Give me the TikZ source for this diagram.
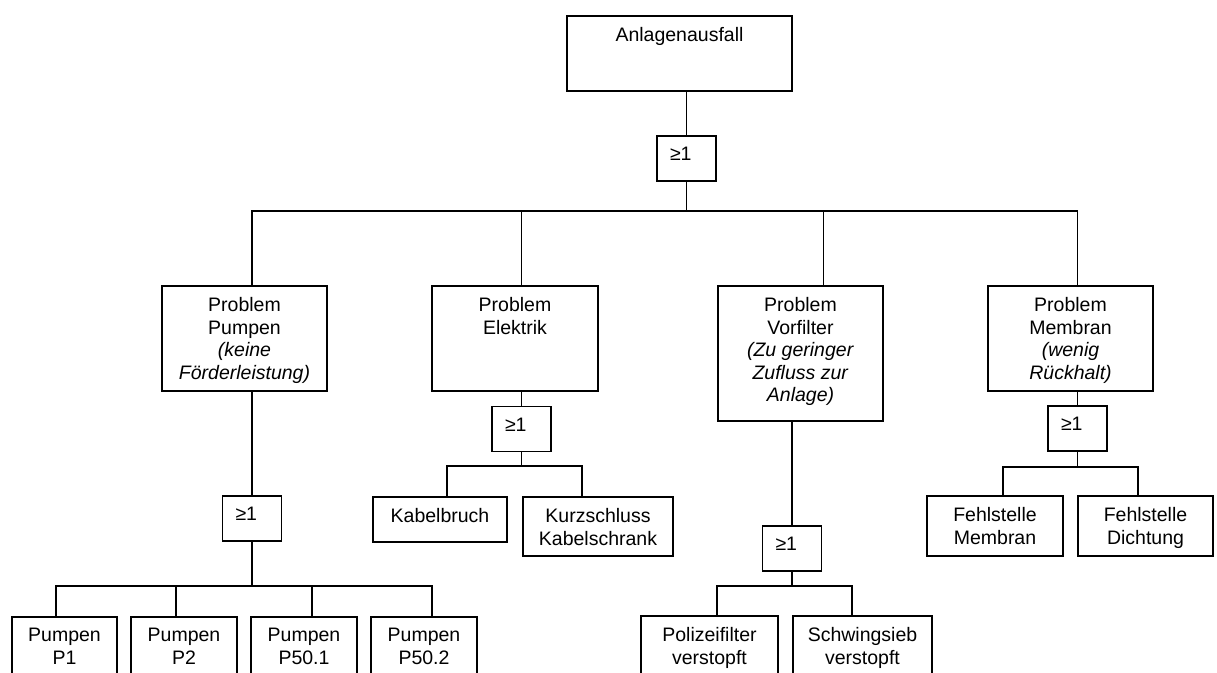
\documentclass[tikz,border=0pt]{standalone}
\usepackage{fontspec}
\setmainfont{Liberation Sans}
\usepackage{tikz}
\usetikzlibrary{positioning,
                calc}
\tikzset{evbox/.style = {draw,
                     line width=1.1pt,
                     inner sep=0pt,
                     font=\fontsize{19.5}{22.5}\selectfont
                    },
         conn/.style = {
                     draw,
                     line width=1.1pt
         }
        }
\newcommand{\evt}[3]{\parbox[c][#2][t]{#1}{\vspace*{11.5pt}\centering #3}}
\newcommand{\orgate}{\parbox[c][45pt][t]{59pt}{\vspace*{11.5pt}\hspace*{13pt}≥1}}

\begin{document}
\begin{tikzpicture}[x=1pt,y=-1pt]
        \useasboundingbox (0,0) rectangle (1217,672);
        \clip (0,0) rectangle (1217,672);

        % top event
        \node[evbox] (ausfall) at (679.5,53.5) {\evt{225pt}{75pt}{Anlagenausfall}};
        \node[evbox] (g0) at (686.5,158.5) {\orgate};

        % problems
        \node[evbox] (pump) at (244.5,338.5) {\evt{165pt}{105pt}{Problem\\Pumpen\\\textit{(keine}\\\textit{Förderleistung)}}};
        \node[evbox] (elek) at (515,338.5) {\evt{166pt}{105pt}{Problem\\Elektrik}};
        \node[evbox] (vorf) at (800.5,353.5) {\evt{165pt}{135pt}{Problem\\Vorfilter\\\textit{(Zu geringer}\\\textit{Zufluss zur}\\\textit{Anlage)}}};
        \node[evbox] (memb) at (1070.5,338.5) {\evt{165pt}{105pt}{Problem\\Membran\\\textit{(wenig}\\\textit{Rückhalt)}}};

        % gates
        \node[evbox] (gpump) at (252,518.5) {\orgate};
        \node[evbox] (gelek) at (521.5,429) {\orgate};
        \node[evbox] (gvorf) at (792,548.5) {\orgate};
        \node[evbox] (gmemb) at (1077.5,428.5) {\orgate};

        % causes
        \node[evbox] (p1) at (64.5,647) {\evt{105pt}{60pt}{Pumpen\\P1}};
        \node[evbox] (p2) at (184,647) {\evt{106pt}{60pt}{Pumpen\\P2}};
        \node[evbox] (p3) at (304,647) {\evt{106pt}{60pt}{Pumpen\\P50.1}};
        \node[evbox] (p4) at (424,647) {\evt{106pt}{60pt}{Pumpen\\P50.2}};
        \node[evbox] (kabel) at (440,519.5) {\evt{134pt}{45pt}{Kabelbruch}};
        \node[evbox] (kurz) at (598,526.5) {\evt{150pt}{59pt}{Kurzschluss\\Kabelschrank}};
        \node[evbox] (poliz) at (709.5,646) {\evt{137pt}{60pt}{Polizeifilter\\verstopft}};
        \node[evbox] (schw) at (862.5,646) {\evt{139pt}{60pt}{Schwingsieb\\verstopft}};
        \node[evbox] (fmem) at (995,526) {\evt{136pt}{60pt}{Fehlstelle\\Membran}};
        \node[evbox] (fdicht) at (1145.5,526) {\evt{135pt}{60pt}{Fehlstelle\\Dichtung}};

        \coordinate (topbus) at (686.5,211);
        \coordinate (pumpbus) at (252,586);
        \coordinate (elekbus) at (521.5,466);
        \coordinate (vorfbus) at (792,586);
        \coordinate (membus) at (1077.5,467);

        \path[conn] (g0.north) -- (g0 |- ausfall.south);
        \path[conn] (g0.south) -- (topbus);
        \path[conn] (pump.north -| gpump) |- (topbus);
        \path[conn] (elek.north -| gelek) |- (topbus);
        \path[conn] ([xshift=23pt]vorf.north) |- (topbus);
        \path[conn] (memb.north -| gmemb) |- (topbus);

        \path[conn] (gpump.north) -- (gpump |- pump.south);
        \path[conn] (gelek.north) -- (gelek |- elek.south);
        \path[conn] (gvorf.north) -- (gvorf |- vorf.south);
        \path[conn] (gmemb.north) -- (gmemb |- memb.south);

        \path[conn] (gpump.south) -- (pumpbus);
        \path[conn] ([xshift=-8.5pt]p1.north) |- (pumpbus);
        \path[conn] ([xshift=-8pt]p2.north) |- (pumpbus);
        \path[conn] ([xshift=8pt]p3.north) |- (pumpbus);
        \path[conn] ([xshift=8pt]p4.north) |- (pumpbus);

        \path[conn] (gelek.south) -- (elekbus);
        \path[conn] ([xshift=7pt]kabel.north) |- (elekbus);
        \path[conn] ([xshift=-16pt]kurz.north) |- (elekbus);

        \path[conn] (gvorf.south) -- (vorfbus);
        \path[conn] ([xshift=7.5pt]poliz.north) |- (vorfbus);
        \path[conn] ([xshift=-10.5pt]schw.north) |- (vorfbus);

        \path[conn] (gmemb.south) -- (membus);
        \path[conn] ([xshift=8pt]fmem.north) |- (membus);
        \path[conn] ([xshift=-7.5pt]fdicht.north) |- (membus);
    \end{tikzpicture}
\end{document}
